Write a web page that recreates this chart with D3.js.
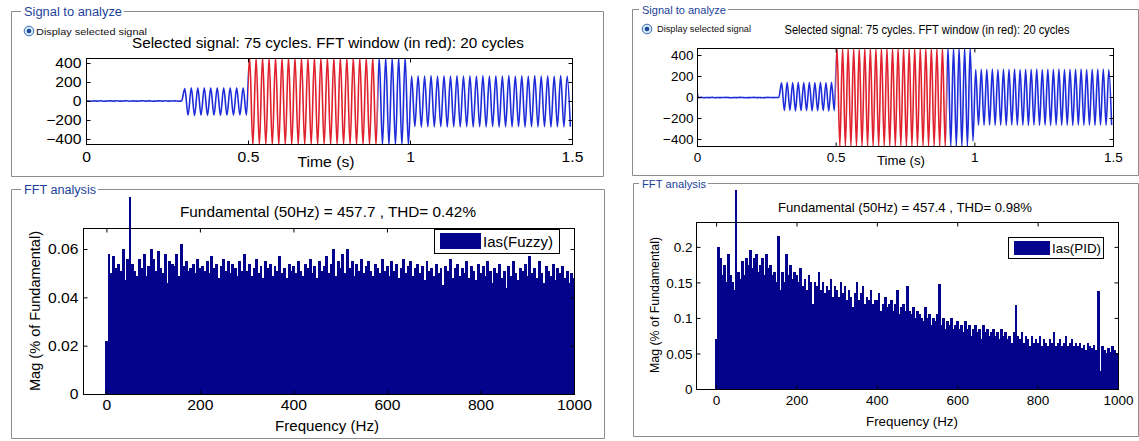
<!DOCTYPE html>
<html><head><meta charset="utf-8">
<script src="https://cdn.jsdelivr.net/npm/d3@7"></script>
<style>body{margin:0;background:#fff}svg{display:block}text{font-family:"Liberation Sans",Arial,Helvetica,sans-serif}</style>
</head><body><svg id="c" width="1139" height="441"></svg>
<script>
// ---------------- DATA ----------------
const timeTicks = [0, 0.5, 1, 1.5];
const timeTickLabels = ["0", "0.5", "1", "1.5"];
const ampTicks = [400, 200, 0, -200, -400];
const freqTicks = [0, 200, 400, 600, 800, 1000];
const fuzzyMagTicks = [0, 0.02, 0.04, 0.06];
const fuzzyMagTickLabels = ["0", "0.02", "0.04", "0.06"];
const pidMagTicks = [0, 0.05, 0.1, 0.15, 0.2];
const pidMagTickLabels = ["0", "0.05", "0.1", "0.15", "0.2"];
const fftWindow = [0.5, 0.9];      // FFT window (s), drawn in red
const freqStep = 5;                // Hz between spectrum bins below
const seriesNames = ["Ias(Fuzzy)", "Ias(PID)"];
const sigTitle = "Selected signal: 75 cycles. FFT window (in red): 20 cycles";
const fftTitles = ["Fundamental (50Hz) = 457.7 , THD= 0.42%", "Fundamental (50Hz) = 457.4 , THD= 0.98%"];

// spectrum (% of fundamental), bins 0,5,10,...,1000 Hz
const fuzzyMag = [
0.022,0.058,0.050,0.057,0.052,0.054,0.051,0.060,0.047,0.056,
100,0.054,0.051,0.049,0.056,0.052,0.058,0.049,0.053,0.060,
0.056,0.051,0.059,0.052,0.050,0.058,0.046,0.055,0.054,0.053,
0.058,0.049,0.062,0.053,0.055,0.051,0.052,0.054,0.050,0.056,
0.052,0.053,0.051,0.055,0.050,0.057,0.052,0.054,0.048,0.053,
0.056,0.051,0.055,0.050,0.054,0.052,0.049,0.055,0.051,0.058,
0.051,0.054,0.049,0.052,0.056,0.050,0.053,0.048,0.055,0.052,
0.054,0.049,0.053,0.051,0.057,0.050,0.052,0.048,0.054,0.051,
0.053,0.050,0.055,0.051,0.049,0.054,0.052,0.056,0.050,0.053,
0.048,0.055,0.051,0.053,0.057,0.050,0.054,0.060,0.049,0.055,
0.052,0.058,0.050,0.060,0.052,0.055,0.049,0.054,0.051,0.056,
0.050,0.053,0.055,0.051,0.049,0.054,0.052,0.050,0.056,0.051,
0.053,0.049,0.055,0.051,0.054,0.048,0.052,0.056,0.050,0.053,
0.055,0.049,0.052,0.054,0.050,0.053,0.047,0.055,0.051,0.052,
0.049,0.054,0.050,0.052,0.045,0.053,0.051,0.056,0.048,0.052,
0.054,0.049,0.052,0.050,0.055,0.048,0.053,0.051,0.047,0.054,
0.050,0.053,0.049,0.055,0.051,0.046,0.052,0.050,0.054,0.048,
0.051,0.044,0.053,0.049,0.055,0.050,0.047,0.052,0.051,0.054,
0.049,0.057,0.050,0.052,0.048,0.055,0.050,0.046,0.053,0.051,
0.049,0.054,0.047,0.052,0.050,0.053,0.048,0.051,0.046,0.050,
0.048];
const pidMag = [
0.070,0.200,0.185,0.160,0.175,0.150,0.190,0.160,0.150,0.140,
100,0.165,0.155,0.180,0.160,0.185,0.175,0.195,0.170,0.185,
0.190,0.165,0.175,0.185,0.160,0.190,0.170,0.175,0.160,0.165,
0.150,0.215,0.140,0.165,0.150,0.190,0.160,0.175,0.155,0.165,
0.160,0.150,0.170,0.145,0.155,0.140,0.160,0.150,0.120,0.150,
0.145,0.165,0.140,0.150,0.135,0.145,0.140,0.155,0.130,0.145,
0.140,0.130,0.150,0.135,0.145,0.125,0.140,0.130,0.115,0.135,
0.150,0.125,0.135,0.145,0.120,0.130,0.125,0.140,0.120,0.125,
0.125,0.135,0.110,0.120,0.130,0.115,0.120,0.125,0.110,0.120,
0.140,0.105,0.115,0.120,0.110,0.145,0.110,0.105,0.115,0.100,
0.110,0.105,0.100,0.095,0.115,0.100,0.105,0.090,0.100,0.095,
0.105,0.148,0.090,0.100,0.085,0.095,0.090,0.100,0.085,0.090,
0.095,0.085,0.090,0.080,0.095,0.085,0.090,0.075,0.085,0.090,
0.080,0.085,0.070,0.090,0.080,0.085,0.075,0.080,0.085,0.075,
0.080,0.070,0.085,0.075,0.080,0.070,0.075,0.065,0.080,0.118,
0.075,0.070,0.080,0.065,0.075,0.070,0.060,0.075,0.065,0.070,
0.065,0.075,0.060,0.070,0.065,0.060,0.070,0.065,0.080,0.060,
0.065,0.070,0.060,0.065,0.075,0.060,0.065,0.070,0.060,0.065,
0.060,0.065,0.058,0.062,0.055,0.065,0.060,0.058,0.062,0.055,
0.138,0.025,0.060,0.055,0.050,0.058,0.052,0.060,0.055,0.050,
0.050];

// signal: value at t=0, then successive half-cycle peaks (every 0.01 s from 0.005 s)
const sigFuzzy = [0,
0,-2,1,-1,2,-2,0,1,-1,2,-1,0,2,-2,1,-1,0,2,-1,1,-2,0,1,-1,2,-1,0,1,-2,1,
130,-150,140,-155,138,-150,140,-152,138,-150,140,-152,138,-150,140,-150,138,-148,140,-150,
462,-466,460,-464,463,-466,461,-465,462,-466,460,-464,463,-466,461,-465,462,-466,460,-464,
463,-466,461,-465,462,-466,460,-464,463,-466,461,-465,462,-466,460,-464,463,-466,461,-465,
460,-465,461,-466,460,-465,461,-466,460,-465,
262,-270,266,-274,264,-271,267,-273,263,-270,266,-274,264,-272,267,-273,263,-270,266,-274,
264,-271,267,-273,263,-270,266,-274,264,-272,267,-273,263,-270,266,-274,264,-271,267,-273,
263,-270,266,-274,264,-272,267,-273,263,-270];
const sigPid = [55,
-6,-4,-7,-5,-6,-4,-7,-5,-6,-5,-4,-6,-7,-5,-6,-4,-5,-7,-6,-5,-4,-6,-5,-7,-6,-4,-5,-6,-5,-4,
135,-130,140,-128,138,-132,140,-130,138,-130,140,-132,138,-130,140,-130,138,-132,140,-130,
470,-472,471,-470,472,-471,470,-472,471,-470,472,-471,470,-472,471,-470,472,-471,470,-472,
471,-470,472,-471,470,-472,471,-470,472,-471,470,-472,471,-470,472,-471,470,-472,471,-470,
470,-472,471,-470,472,-471,470,-472,471,-420,
262,-268,265,-270,263,-267,266,-269,262,-268,265,-270,263,-267,266,-269,262,-268,265,-270,
263,-267,266,-269,262,-268,265,-270,263,-267,266,-269,262,-268,265,-270,263,-267,266,-269,
262,-268,265,-270,263,-267,266,-269,262,-268];

// ---------------- LAYOUT ----------------
const panels = [
 { sig: sigFuzzy, mag: fuzzyMag, magTicks: fuzzyMagTicks, magTickLabels: fuzzyMagTickLabels, name: seriesNames[0], fftTitle: fftTitles[0],
   sigFrame: {x0: 11, y0: 11, x1: 603, y1: 176, tx0: 24, tx1: 122, fs: 12.5},
   radio: {cx: 29, cy: 31, tx: 36, tw: 111, fs: 9.5},
   sigTitlePos: {x: 328, y: 42, w: 392, fs: 15},
   sigPlot: {x0: 86, x1: 572, y0: 58, y1: 144}, sigY: [-453, 453],
   tickFs: 14, tickSx: 1.12, xLabY: 157, yLabPad: 5,
   timeLab: {x: 326, y: 162, w: 57, fs: 14.5},
   fftFrame: {x0: 11, y0: 189, x1: 604, y1: 438, tx0: 24, tx1: 96, fs: 12},
   fftTitlePos: {x: 328, y: 212, w: 296, fs: 14.5},
   fftPlot: {x0: 83, x1: 574, y0: 228, y1: 394}, fftY: [0, 0.0687], spikeTop: 197,
   fxLabY: 405, fyLabPad: 5,
   freqLab: {x: 327, y: 425, w: 104, fs: 15},
   magLab: {x: 35, y: 311, w: 160, fs: 14.5},
   legend: {x0: 434, x1: 559, y0: 229, y1: 253, sx0: 440, sx1: 481, sy0: 233, sy1: 249, tx: 483, tw: 70, fs: 14}
 },
 { sig: sigPid, mag: pidMag, magTicks: pidMagTicks, magTickLabels: pidMagTickLabels, name: seriesNames[1], fftTitle: fftTitles[1],
   sigFrame: {x0: 632, y0: 9, x1: 1138, y1: 175, tx0: 642, tx1: 726, fs: 11.5},
   radio: {cx: 647, cy: 29, tx: 657, tw: 94, fs: 8.5},
   sigTitlePos: {x: 927, y: 30, w: 285, fs: 12.5},
   sigPlot: {x0: 697, x1: 1113, y0: 48, y1: 146}, sigY: [-467, 467],
   tickFs: 13.5, tickSx: 1.0, xLabY: 157, yLabPad: 4,
   timeLab: {x: 901, y: 160, w: 48, fs: 13.5},
   fftFrame: {x0: 633, y0: 183, x1: 1138, y1: 436, tx0: 642, tx1: 706, fs: 11},
   fftTitlePos: {x: 905, y: 207, w: 254, fs: 13.5},
   fftPlot: {x0: 696, x1: 1118, y0: 222, y1: 389}, fftY: [0, 0.235], spikeTop: 190,
   fxLabY: 400, fyLabPad: 4,
   freqLab: {x: 912, y: 421, w: 92, fs: 13.5},
   magLab: {x: 655, y: 305, w: 136, fs: 12.5},
   legend: {x0: 1008, x1: 1103, y0: 237, y1: 258, sx0: 1014, sx1: 1050, sy0: 241, sy1: 255, tx: 1052, tw: 49, fs: 13}
 }
];

const BLUE = "#1d2bd9", RED = "#e0202c", BAR = "#03038c", FRAME = "#8c8c8c", TITLEBLUE = "#1c3f9a";
const svg = d3.select("#c");

function label(g, x, y, str, o = {}) {
  const t = g.append("text").attr("x", x).attr("y", y).text(str)
    .attr("font-size", o.fs || 13).attr("fill", o.fill || "#000")
    .attr("text-anchor", o.anchor || "start").attr("dominant-baseline", "central");
  if (o.w) t.attr("textLength", o.w).attr("lengthAdjust", "spacingAndGlyphs");
  if (o.rot) t.attr("transform", `rotate(${o.rot},${x},${y})`);
  return t;
}

function frame(f, title) {
  const g = svg.append("g");
  const p = d3.path();
  p.moveTo(f.tx0 - 3, f.y0 + 0.5); p.lineTo(f.x0 + 0.5, f.y0 + 0.5); p.lineTo(f.x0 + 0.5, f.y1 + 0.5);
  p.lineTo(f.x1 + 0.5, f.y1 + 0.5); p.lineTo(f.x1 + 0.5, f.y0 + 0.5); p.lineTo(f.tx1 + 2, f.y0 + 0.5);
  g.append("path").attr("d", p.toString()).attr("fill", "none").attr("stroke", FRAME).attr("stroke-width", 1);
  label(g, f.tx0, f.y0 + 0.5, title, {fs: f.fs, w: f.tx1 - f.tx0, fill: TITLEBLUE});
}

let clipId = 0;
function clip(rects) {
  const id = "clip" + (clipId++);
  const cp = svg.append("clipPath").attr("id", id);
  rects.forEach(r => cp.append("rect").attr("x", r[0]).attr("y", r[1]).attr("width", r[2]).attr("height", r[3]));
  return `url(#${id})`;
}

function styleAxis(g, fs, sx, isLeft, pad) {
  g.select(".domain").remove();
  g.selectAll(".tick line").attr("stroke", "#000");
  g.selectAll(".tick text").attr("font-size", fs).attr("fill", "#000")
   .attr("font-family", '"Liberation Sans",Arial,sans-serif');
  if (isLeft) {
    g.selectAll(".tick text").attr("x", -pad / sx).attr("dy", "0.35em").attr("transform", `scale(${sx},1)`);
  } else {
    g.selectAll(".tick text").attr("dy", "0.35em").attr("transform", `scale(${sx},1)`);
  }
}

function boxAxes(P, x, y, xTicks, xFmt, yTicks, yFmt, cfg, xLabY, yPad) {
  const g = svg.append("g");
  const bx = g.append("g").attr("transform", `translate(0,${P.y1 + 0.5})`)
    .call(d3.axisBottom(x).tickValues(xTicks).tickFormat(xFmt).tickSize(-4).tickSizeOuter(0));
  styleAxis(bx, cfg.tickFs, cfg.tickSx, false, 0);
  bx.selectAll(".tick text").attr("y", xLabY - P.y1 - 0.5);
  const tx = g.append("g").attr("transform", `translate(0,${P.y0 + 0.5})`)
    .call(d3.axisTop(x).tickValues(xTicks).tickFormat("").tickSize(-4).tickSizeOuter(0));
  styleAxis(tx, cfg.tickFs, 1, false, 0);
  const ly = g.append("g").attr("transform", `translate(${P.x0 + 0.5},0)`)
    .call(d3.axisLeft(y).tickValues(yTicks).tickFormat(yFmt).tickSize(-4).tickSizeOuter(0));
  styleAxis(ly, cfg.tickFs, cfg.tickSx, true, yPad);
  const ry = g.append("g").attr("transform", `translate(${P.x1 + 0.5},0)`)
    .call(d3.axisRight(y).tickValues(yTicks).tickFormat("").tickSize(-4).tickSizeOuter(0));
  styleAxis(ry, cfg.tickFs, 1, false, 0);
  g.append("rect").attr("x", P.x0 + 0.5).attr("y", P.y0 + 0.5).attr("width", P.x1 - P.x0).attr("height", P.y1 - P.y0)
    .attr("fill", "none").attr("stroke", "#000").attr("stroke-width", 1);
}

panels.forEach(cfg => {
  // ---------- Signal to analyze ----------
  frame(cfg.sigFrame, "Signal to analyze");
  const r = cfg.radio;
  svg.append("circle").attr("cx", r.cx).attr("cy", r.cy).attr("r", 4.8).attr("fill", "#d6e8fa").attr("stroke", "#3b6db3").attr("stroke-width", 1);
  svg.append("circle").attr("cx", r.cx).attr("cy", r.cy).attr("r", 2.3).attr("fill", "#1a4c9c");
  label(svg, r.tx, r.cy, "Display selected signal", {fs: r.fs, w: r.tw, fill: "#111"});
  const st = cfg.sigTitlePos;
  label(svg, st.x, st.y, sigTitle, {fs: st.fs, w: st.w, anchor: "middle"});

  const P = cfg.sigPlot;
  const x = d3.scaleLinear().domain([0, 1.5]).range([P.x0, P.x1]);
  const y = d3.scaleLinear().domain(cfg.sigY).range([P.y1, P.y0]);
  const pts = cfg.sig.map((v, i) => ({t: i === 0 ? 0 : 0.005 + 0.01 * (i - 1), v}));
  const line = d3.line().x(d => x(d.t)).y(d => y(d.v)).curve(d3.curveMonotoneX);
  const h = P.y1 - P.y0;
  const blueClip = clip([[P.x0, P.y0, x(fftWindow[0]) - P.x0, h], [x(fftWindow[1]), P.y0, P.x1 - x(fftWindow[1]), h]]);
  const redClip = clip([[x(fftWindow[0]), P.y0, x(fftWindow[1]) - x(fftWindow[0]), h]]);
  svg.append("path").attr("d", line(pts)).attr("fill", "none").attr("stroke", BLUE).attr("stroke-width", 1.6).attr("clip-path", blueClip);
  svg.append("path").attr("d", line(pts)).attr("fill", "none").attr("stroke", RED).attr("stroke-width", 1.6).attr("clip-path", redClip);
  boxAxes(P, x, y, timeTicks, (d, i) => timeTickLabels[i], ampTicks, d3.format("d"), cfg, cfg.xLabY, cfg.yLabPad);
  const tl = cfg.timeLab;
  label(svg, tl.x, tl.y, "Time (s)", {fs: tl.fs, w: tl.w, anchor: "middle"});

  // ---------- FFT analysis ----------
  frame(cfg.fftFrame, "FFT analysis");
  const ft = cfg.fftTitlePos;
  label(svg, ft.x, ft.y, cfg.fftTitle, {fs: ft.fs, w: ft.w, anchor: "middle"});
  const Q = cfg.fftPlot;
  const fx = d3.scaleLinear().domain([-50, 1000]).range([Q.x0, Q.x1]);
  const fy = d3.scaleLinear().domain(cfg.fftY).range([Q.y1, Q.y0]);
  const bw = fx(freqStep) - fx(0);
  const barClip = clip([[Q.x0, cfg.spikeTop, Q.x1 - Q.x0, Q.y1 - cfg.spikeTop]]);
  const bars = cfg.mag.map((v, i) => ({f: i * freqStep, v}));
  svg.append("g").attr("clip-path", barClip).attr("shape-rendering", "crispEdges")
    .selectAll("rect").data(bars).join("rect")
    .attr("x", d => fx(d.f) - (d.v > 1 ? 0.75 : bw / 2))
    .attr("width", d => d.v > 1 ? 1.5 : bw + 0.6)
    .attr("y", d => fy(d.v)).attr("height", d => fy(0) - fy(d.v))
    .attr("fill", BAR);
  boxAxes(Q, fx, fy, freqTicks, d3.format("d"), cfg.magTicks, (d, i) => cfg.magTickLabels[i], cfg, cfg.fxLabY, cfg.fyLabPad);
  const fl = cfg.freqLab;
  label(svg, fl.x, fl.y, "Frequency (Hz)", {fs: fl.fs, w: fl.w, anchor: "middle"});
  const ml = cfg.magLab;
  label(svg, ml.x, ml.y, "Mag (% of Fundamental)", {fs: ml.fs, w: ml.w, anchor: "middle", rot: -90});
  // legend
  const L = cfg.legend;
  svg.append("rect").attr("x", L.x0 + 0.5).attr("y", L.y0 + 0.5).attr("width", L.x1 - L.x0).attr("height", L.y1 - L.y0)
    .attr("fill", "#fff").attr("stroke", "#000");
  svg.append("rect").attr("x", L.sx0).attr("y", L.sy0).attr("width", L.sx1 - L.sx0).attr("height", L.sy1 - L.sy0).attr("fill", BAR);
  label(svg, L.tx, (L.y0 + L.y1) / 2 + 0.5, cfg.name, {fs: L.fs, w: L.tw});
});
</script></body></html>
